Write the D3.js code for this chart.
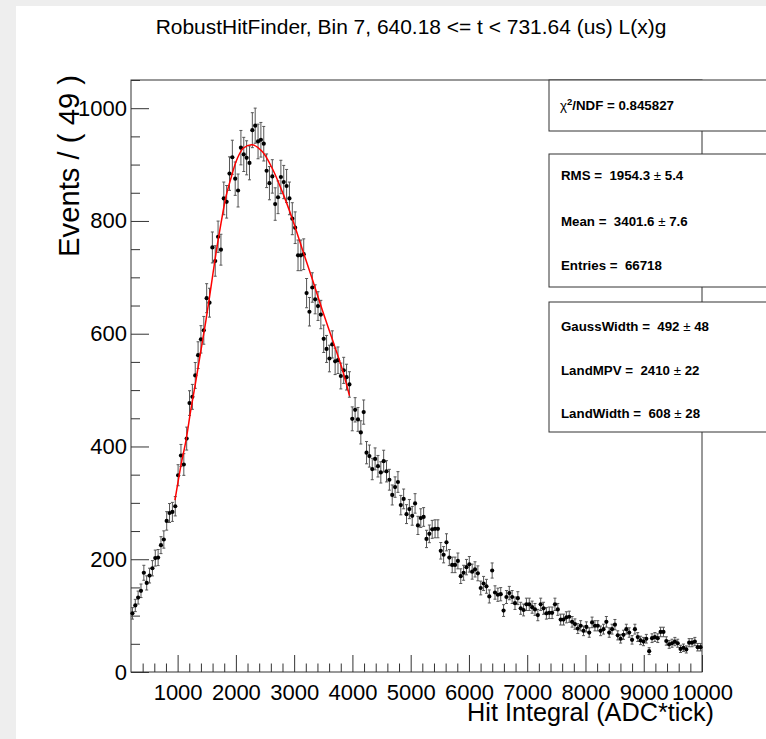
<!DOCTYPE html>
<html><head><meta charset="utf-8">
<script src="https://cdn.jsdelivr.net/npm/d3@7"></script>
<style>
html,body{margin:0;padding:0;background:#eeeeee;overflow:hidden;}
text{font-family:"Liberation Sans",Arial,Helvetica,sans-serif;}
</style></head>
<body>
<svg id="c" width="766" height="739"></svg>
<script>
// ---- data ----
const title = "RobustHitFinder, Bin 7, 640.18 <= t < 731.64 (us) L(x)g";
const xTitle = "Hit Integral (ADC*tick)";
const yTitle = "Events / ( 49 )";
const binLow = 200, binWidth = 49, xMaxVal = 10000, yMaxVal = 1050;
const counts = [
 104,118,132,144,176,158,171,184,202,203,
 225,235,268,282,284,294,349,384,368,414,
 477,488,526,562,590,606,663,655,753,729,
 772,749,840,834,884,913,875,854,930,918,
 912,903,961,969,941,944,937,889,867,879,
 830,842,878,869,862,840,804,788,739,739,
 741,672,639,682,661,649,634,591,573,556,
 581,551,553,525,535,523,510,449,465,448,
 425,461,389,383,360,378,365,354,374,356,
 341,314,328,337,296,307,280,289,277,299,
 260,273,275,236,245,253,254,254,215,208,
 230,203,190,190,197,170,176,186,191,178,
 182,175,149,157,152,134,180,141,137,138,
 109,133,140,133,122,131,113,110,120,120,
 115,111,101,120,113,104,105,105,120,111,
 93,93,97,98,89,85,77,82,73,80,
 70,88,82,82,73,76,89,70,76,84,
 65,59,66,76,70,57,76,62,56,54,
 59,37,60,62,60,71,71,55,49,51,
 54,51,41,43,40,52,52,54,44,44
];
// fit curve (x, value)
const fitX = [955,1058,1144,1230,1316,1401,1487,1573,1659,1745,1830,1916,2014,2127,2285,2453,2625,2796,2968,3140,3311,3483,3655,3826,3950];
const fitY = [305,367,411,467,518,571,624,683,743,796,843,876,908,929,935,923,893,852,804,750,697,642,590,537,490];
const xMajorTicks = [1000,2000,3000,4000,5000,6000,7000,8000,9000,10000];
const xMinorTicks = [400,600,800,1200,1400,1600,1800,2200,2400,2600,2800,3200,3400,3600,3800,4200,4400,4600,4800,5200,5400,5600,5800,6200,6400,6600,6800,7200,7400,7600,7800,8200,8400,8600,8800,9200,9400,9600,9800];
const yMajorTicks = [0,200,400,600,800,1000];
const yMinorTicks = [50,100,150,250,300,350,450,500,550,650,700,750,850,900,950,1050];
const statsChi = ["0.845827"];
const statsMain = [["RMS = ","1954.3","5.4"],["Mean = ","3401.6","7.6"],["Entries = ","66718",null]];
const statsFit = [["GaussWidth = ","492","48"],["LandMPV = ","2410","22"],["LandWidth = ","608","28"]];

// ---- drawing ----
const svg = d3.select("#c");
const L=131, R=702, T=80, B=672;
svg.append("rect").attr("x",16).attr("y",6).attr("width",760).attr("height",740).attr("fill","#fff");

const x = d3.scaleLinear().domain([binLow, xMaxVal]).range([L,R]);
const y = d3.scaleLinear().domain([0, yMaxVal]).range([B,T]);

// frame
svg.append("rect").attr("x",L).attr("y",T).attr("width",R-L).attr("height",B-T)
  .attr("fill","none").attr("stroke","#333").attr("stroke-width",1);

// axes
const fs = 22;
const gx = svg.append("g").attr("transform",`translate(0,${B})`)
  .call(d3.axisBottom(x).tickValues(xMajorTicks).tickSizeInner(-17).tickSizeOuter(0).tickPadding(12).tickFormat(d3.format("d")));
const gxm = svg.append("g").attr("transform",`translate(0,${B})`)
  .call(d3.axisBottom(x).tickValues(xMinorTicks).tickSizeInner(-8.5).tickSizeOuter(0).tickFormat(""));
const gy = svg.append("g").attr("transform",`translate(${L},0)`)
  .call(d3.axisLeft(y).tickValues(yMajorTicks).tickSizeInner(-18).tickSizeOuter(0).tickPadding(4).tickFormat(d3.format("d")));
const gym = svg.append("g").attr("transform",`translate(${L},0)`)
  .call(d3.axisLeft(y).tickValues(yMinorTicks).tickSizeInner(-9).tickSizeOuter(0).tickFormat(""));
[gx,gxm,gy,gym].forEach(g=>{g.select(".domain").remove(); g.selectAll("line").attr("stroke","#333");
  g.selectAll("text").attr("font-size",fs).attr("fill","#000").attr("font-family",'"Liberation Sans",Arial,sans-serif');});

// titles
const tt = svg.append("text").attr("x",411).attr("y",34).attr("text-anchor","middle").attr("font-size",18).text(title);
const tw = tt.node().getComputedTextLength(); tt.attr("font-size", 18*511/tw);
const xt = svg.append("text").attr("x",714).attr("y",721).attr("text-anchor","end").attr("font-size",22).text(xTitle);
const xw = xt.node().getComputedTextLength(); xt.attr("font-size", 22*247/xw);
const yt = svg.append("text").attr("transform","translate(79,75) rotate(-90)").attr("text-anchor","end").attr("font-size",23).text(yTitle);
const yw = yt.node().getComputedTextLength(); yt.attr("font-size", 23*182/yw);

// error bars and points
const bins = counts.map((c,i)=>({xc: binLow + (i+0.5)*binWidth, v:c, e:Math.sqrt(c)}));
const eg = svg.append("g").attr("stroke","#555").attr("stroke-width",1);
bins.forEach(d=>{
  const cx = x(d.xc), y1=y(d.v+d.e), y2=y(d.v-d.e);
  eg.append("line").attr("x1",cx).attr("x2",cx).attr("y1",y1).attr("y2",y2);
  eg.append("line").attr("x1",cx-1.5).attr("x2",cx+1.5).attr("y1",y1).attr("y2",y1);
  eg.append("line").attr("x1",cx-1.5).attr("x2",cx+1.5).attr("y1",y2).attr("y2",y2);
});
svg.append("g").selectAll("circle").data(bins).join("circle")
  .attr("cx",d=>x(d.xc)).attr("cy",d=>y(d.v)).attr("r",2.1).attr("fill","#000");

// fit curve
const fitPts = fitX.map((v,i)=>[v,fitY[i]]);
svg.append("path").attr("d", d3.line().x(d=>x(d[0])).y(d=>y(d[1])).curve(d3.curveCatmullRom)(fitPts))
  .attr("fill","none").attr("stroke","#ff0000").attr("stroke-width",1.5);

// stats boxes
function box(y0,y1){ svg.append("rect").attr("x",549).attr("y",y0).attr("width",300).attr("height",y1-y0)
  .attr("fill","#fff").attr("stroke","#333").attr("stroke-width",1); }
box(80,131); box(154,287); box(302,432);
const sfs = 13.3;
function statLine(yb, item){
  const t = svg.append("text").attr("x",561).attr("y",yb).attr("font-size",sfs).attr("font-weight","bold").attr("xml:space","preserve").style("white-space","pre");
  t.append("tspan").text(item[0]+" "+item[1]+" ");
  if(item[2]!==null){ t.append("tspan").attr("font-weight","normal").text("\u00b1"); t.append("tspan").text(" "+item[2]); }
}
const ct = svg.append("text").attr("x",560).attr("y",110).attr("font-size",sfs).attr("font-weight","bold");
ct.append("tspan").attr("font-weight","normal").text("\u03c7");
ct.append("tspan").attr("font-size",9.5).attr("dy",-5).text("2");
ct.append("tspan").attr("dy",5).text("/NDF = "+statsChi[0]);
[180,226,270].forEach((yb,i)=>statLine(yb,statsMain[i]));
[331,375,418].forEach((yb,i)=>statLine(yb,statsFit[i]));
</script>
</body></html>
